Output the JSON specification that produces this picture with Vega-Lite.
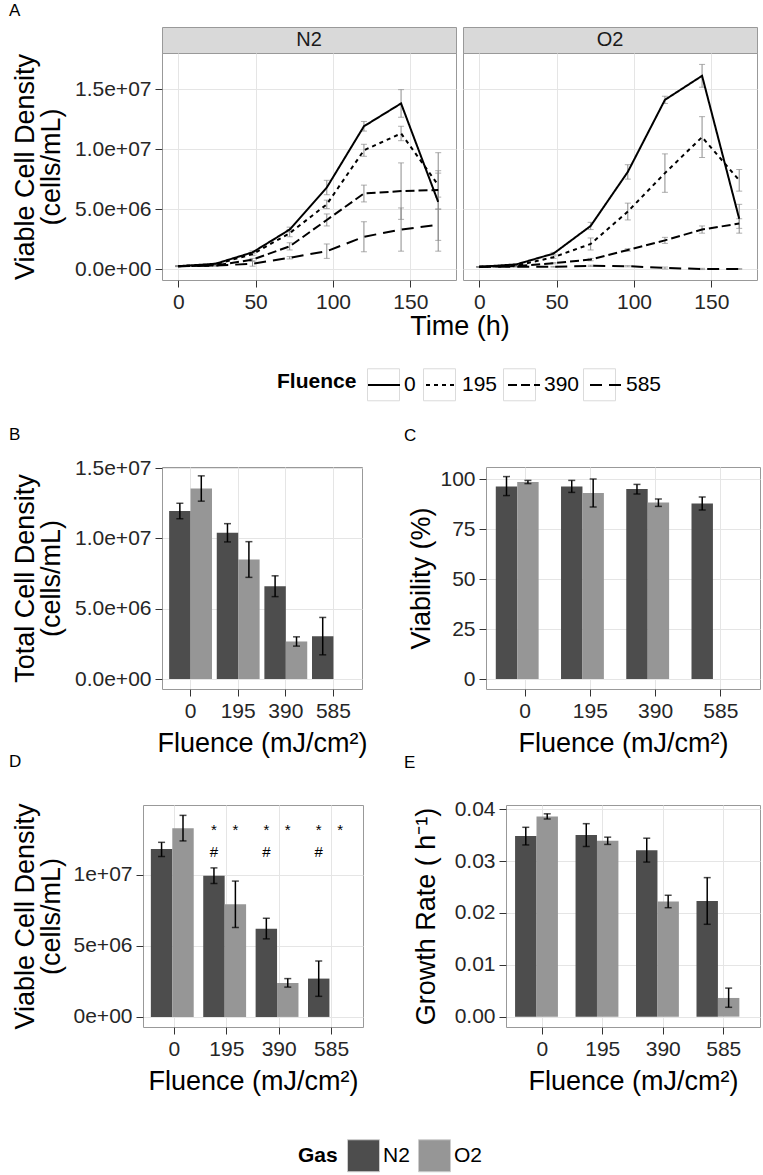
{
"$schema":"https://vega.github.io/schema/vega-lite/v6.json",
"padding":{"left":8,"top":1,"right":4,"bottom":4},
"background":"white",
"config":{
 "font":"Liberation Sans",
 "view":{"stroke":"#999999","strokeWidth":1},
 "axis":{"domain":false,"tickColor":"#333333","tickSize":7,"tickWidth":1,"labelFontSize":21,"labelColor":"#262626","labelPadding":4,"labelFlush":false,"labelOverlap":false,"titleFontSize":27,"titleFontWeight":"normal","titleColor":"#000000","gridColor":"#e5e5e5","gridWidth":1},
 "axisX":{"minExtent":32,"maxExtent":32,"titlePadding":9},
 "axisY":{"titleLineHeight":26},
 "legend":{"labelFontSize":21,"titleFontSize":21,"titleFontWeight":"bold","labelColor":"#000000","titleColor":"#000000","padding":0},
 "title":{"anchor":"start","frame":"group","fontSize":17,"fontWeight":"normal","color":"#000000"}
},
"datasets":{
 "growth":[
  {"Gas":"N2","Fluence":"0","Time":0,"v":250000,"lo":220000,"hi":280000},
  {"Gas":"N2","Fluence":"0","Time":24,"v":450000,"lo":400000,"hi":500000},
  {"Gas":"N2","Fluence":"0","Time":48,"v":1400000,"lo":1280000,"hi":1520000},
  {"Gas":"N2","Fluence":"0","Time":72,"v":3300000,"lo":3100000,"hi":3500000},
  {"Gas":"N2","Fluence":"0","Time":96,"v":6800000,"lo":6200000,"hi":7400000},
  {"Gas":"N2","Fluence":"0","Time":120,"v":11900000,"lo":11500000,"hi":12300000},
  {"Gas":"N2","Fluence":"0","Time":144,"v":13800000,"lo":12650000,"hi":14950000},
  {"Gas":"N2","Fluence":"0","Time":168,"v":5600000,"lo":1500000,"hi":9700000},
  {"Gas":"N2","Fluence":"195","Time":0,"v":250000,"lo":220000,"hi":280000},
  {"Gas":"N2","Fluence":"195","Time":24,"v":400000,"lo":350000,"hi":450000},
  {"Gas":"N2","Fluence":"195","Time":48,"v":1250000,"lo":1130000,"hi":1370000},
  {"Gas":"N2","Fluence":"195","Time":72,"v":3000000,"lo":2700000,"hi":3300000},
  {"Gas":"N2","Fluence":"195","Time":96,"v":5400000,"lo":5050000,"hi":5750000},
  {"Gas":"N2","Fluence":"195","Time":120,"v":9900000,"lo":9400000,"hi":10400000},
  {"Gas":"N2","Fluence":"195","Time":144,"v":11300000,"lo":10700000,"hi":11900000},
  {"Gas":"N2","Fluence":"195","Time":168,"v":7000000,"lo":6000000,"hi":8000000},
  {"Gas":"N2","Fluence":"390","Time":0,"v":250000,"lo":220000,"hi":280000},
  {"Gas":"N2","Fluence":"390","Time":24,"v":300000,"lo":260000,"hi":340000},
  {"Gas":"N2","Fluence":"390","Time":48,"v":800000,"lo":700000,"hi":900000},
  {"Gas":"N2","Fluence":"390","Time":72,"v":1900000,"lo":1600000,"hi":2200000},
  {"Gas":"N2","Fluence":"390","Time":96,"v":4100000,"lo":3600000,"hi":4600000},
  {"Gas":"N2","Fluence":"390","Time":120,"v":6300000,"lo":5600000,"hi":7000000},
  {"Gas":"N2","Fluence":"390","Time":144,"v":6500000,"lo":4150000,"hi":8850000},
  {"Gas":"N2","Fluence":"390","Time":168,"v":6600000,"lo":5000000,"hi":8200000},
  {"Gas":"N2","Fluence":"585","Time":0,"v":250000,"lo":220000,"hi":280000},
  {"Gas":"N2","Fluence":"585","Time":24,"v":300000,"lo":260000,"hi":340000},
  {"Gas":"N2","Fluence":"585","Time":48,"v":450000,"lo":250000,"hi":650000},
  {"Gas":"N2","Fluence":"585","Time":72,"v":950000,"lo":850000,"hi":1050000},
  {"Gas":"N2","Fluence":"585","Time":96,"v":1500000,"lo":900000,"hi":2100000},
  {"Gas":"N2","Fluence":"585","Time":120,"v":2700000,"lo":1450000,"hi":3950000},
  {"Gas":"N2","Fluence":"585","Time":144,"v":3300000,"lo":1500000,"hi":5100000},
  {"Gas":"N2","Fluence":"585","Time":168,"v":3700000,"lo":2400000,"hi":5000000},
  {"Gas":"O2","Fluence":"0","Time":0,"v":200000,"lo":180000,"hi":220000},
  {"Gas":"O2","Fluence":"0","Time":24,"v":400000,"lo":350000,"hi":450000},
  {"Gas":"O2","Fluence":"0","Time":48,"v":1300000,"lo":1200000,"hi":1400000},
  {"Gas":"O2","Fluence":"0","Time":72,"v":3600000,"lo":3300000,"hi":3900000},
  {"Gas":"O2","Fluence":"0","Time":96,"v":8100000,"lo":7500000,"hi":8700000},
  {"Gas":"O2","Fluence":"0","Time":120,"v":14100000,"lo":13800000,"hi":14400000},
  {"Gas":"O2","Fluence":"0","Time":144,"v":16100000,"lo":15150000,"hi":17050000},
  {"Gas":"O2","Fluence":"0","Time":168,"v":4200000,"lo":3000000,"hi":5400000},
  {"Gas":"O2","Fluence":"195","Time":0,"v":200000,"lo":180000,"hi":220000},
  {"Gas":"O2","Fluence":"195","Time":24,"v":300000,"lo":250000,"hi":350000},
  {"Gas":"O2","Fluence":"195","Time":48,"v":1000000,"lo":900000,"hi":1100000},
  {"Gas":"O2","Fluence":"195","Time":72,"v":2100000,"lo":1600000,"hi":2600000},
  {"Gas":"O2","Fluence":"195","Time":96,"v":4800000,"lo":4100000,"hi":5500000},
  {"Gas":"O2","Fluence":"195","Time":120,"v":8000000,"lo":6400000,"hi":9600000},
  {"Gas":"O2","Fluence":"195","Time":144,"v":11000000,"lo":9300000,"hi":12700000},
  {"Gas":"O2","Fluence":"195","Time":168,"v":7400000,"lo":6500000,"hi":8300000},
  {"Gas":"O2","Fluence":"390","Time":0,"v":200000,"lo":180000,"hi":220000},
  {"Gas":"O2","Fluence":"390","Time":24,"v":250000,"lo":220000,"hi":280000},
  {"Gas":"O2","Fluence":"390","Time":48,"v":500000,"lo":450000,"hi":550000},
  {"Gas":"O2","Fluence":"390","Time":72,"v":800000,"lo":700000,"hi":900000},
  {"Gas":"O2","Fluence":"390","Time":96,"v":1600000,"lo":1500000,"hi":1700000},
  {"Gas":"O2","Fluence":"390","Time":120,"v":2400000,"lo":2150000,"hi":2650000},
  {"Gas":"O2","Fluence":"390","Time":144,"v":3300000,"lo":3000000,"hi":3600000},
  {"Gas":"O2","Fluence":"390","Time":168,"v":3800000,"lo":3400000,"hi":4200000},
  {"Gas":"O2","Fluence":"585","Time":0,"v":200000,"lo":180000,"hi":220000},
  {"Gas":"O2","Fluence":"585","Time":24,"v":200000,"lo":180000,"hi":220000},
  {"Gas":"O2","Fluence":"585","Time":48,"v":200000,"lo":170000,"hi":230000},
  {"Gas":"O2","Fluence":"585","Time":72,"v":280000,"lo":230000,"hi":330000},
  {"Gas":"O2","Fluence":"585","Time":96,"v":250000,"lo":200000,"hi":300000},
  {"Gas":"O2","Fluence":"585","Time":120,"v":100000,"lo":20000,"hi":180000},
  {"Gas":"O2","Fluence":"585","Time":144,"v":20000,"lo":-30000,"hi":70000},
  {"Gas":"O2","Fluence":"585","Time":168,"v":20000,"lo":-10000,"hi":50000}
 ],
 "bars":[
  {"panel":"B","Fluence":"0","Gas":"N2","v":11950000,"lo":11400000,"hi":12500000},
  {"panel":"B","Fluence":"0","Gas":"O2","v":13550000,"lo":12650000,"hi":14450000},
  {"panel":"B","Fluence":"195","Gas":"N2","v":10400000,"lo":9750000,"hi":11050000},
  {"panel":"B","Fluence":"195","Gas":"O2","v":8500000,"lo":7230000,"hi":9770000},
  {"panel":"B","Fluence":"390","Gas":"N2","v":6600000,"lo":5860000,"hi":7340000},
  {"panel":"B","Fluence":"390","Gas":"O2","v":2670000,"lo":2340000,"hi":3000000},
  {"panel":"B","Fluence":"585","Gas":"N2","v":3050000,"lo":1720000,"hi":4380000},
  {"panel":"C","Fluence":"0","Gas":"N2","v":96.3,"lo":91.7,"hi":101.2},
  {"panel":"C","Fluence":"0","Gas":"O2","v":98.5,"lo":97.7,"hi":99.3},
  {"panel":"C","Fluence":"195","Gas":"N2","v":96.3,"lo":93.3,"hi":99.3},
  {"panel":"C","Fluence":"195","Gas":"O2","v":93.0,"lo":86.0,"hi":100.0},
  {"panel":"C","Fluence":"390","Gas":"N2","v":95.0,"lo":92.5,"hi":97.3},
  {"panel":"C","Fluence":"390","Gas":"O2","v":88.2,"lo":86.3,"hi":90.0},
  {"panel":"C","Fluence":"585","Gas":"N2","v":87.7,"lo":84.5,"hi":91.0},
  {"panel":"D","Fluence":"0","Gas":"N2","v":11830000,"lo":11300000,"hi":12300000},
  {"panel":"D","Fluence":"0","Gas":"O2","v":13300000,"lo":12400000,"hi":14200000},
  {"panel":"D","Fluence":"195","Gas":"N2","v":9950000,"lo":9400000,"hi":10500000},
  {"panel":"D","Fluence":"195","Gas":"O2","v":7930000,"lo":6300000,"hi":9570000},
  {"panel":"D","Fluence":"390","Gas":"N2","v":6220000,"lo":5500000,"hi":6950000},
  {"panel":"D","Fluence":"390","Gas":"O2","v":2390000,"lo":2100000,"hi":2700000},
  {"panel":"D","Fluence":"585","Gas":"N2","v":2700000,"lo":1450000,"hi":3940000},
  {"panel":"E","Fluence":"0","Gas":"N2","v":0.0348,"lo":0.0331,"hi":0.0365},
  {"panel":"E","Fluence":"0","Gas":"O2","v":0.0386,"lo":0.0381,"hi":0.0391},
  {"panel":"E","Fluence":"195","Gas":"N2","v":0.035,"lo":0.0328,"hi":0.0372},
  {"panel":"E","Fluence":"195","Gas":"O2","v":0.0339,"lo":0.0332,"hi":0.0346},
  {"panel":"E","Fluence":"390","Gas":"N2","v":0.0321,"lo":0.0298,"hi":0.0344},
  {"panel":"E","Fluence":"390","Gas":"O2","v":0.0222,"lo":0.021,"hi":0.0234},
  {"panel":"E","Fluence":"585","Gas":"N2","v":0.0223,"lo":0.0178,"hi":0.0268},
  {"panel":"E","Fluence":"585","Gas":"O2","v":0.0036,"lo":0.0018,"hi":0.0055}
 ],
 "marks":[
  {"Fluence":"195","Gas":"N2","s":"*","sy":13200000},
  {"Fluence":"195","Gas":"O2","s":"*","sy":13200000},
  {"Fluence":"390","Gas":"N2","s":"*","sy":13200000},
  {"Fluence":"390","Gas":"O2","s":"*","sy":13200000},
  {"Fluence":"585","Gas":"N2","s":"*","sy":13200000},
  {"Fluence":"585","Gas":"O2","s":"*","sy":13200000},
  {"Fluence":"195","Gas":"N2","s":"#","sy":11600000},
  {"Fluence":"390","Gas":"N2","s":"#","sy":11600000},
  {"Fluence":"585","Gas":"N2","s":"#","sy":11600000}
 ]
},
"bounds":"flush",
"spacing":0,
"vconcat":[
 {"bounds":"flush","spacing":0,"hconcat":[
  {"width":153,"height":26,"data":{"values":[]},"mark":"point","view":{"stroke":null}},
  {"width":294,"height":26,"data":{"values":[{"g":"N2"}]},"mark":{"type":"text","fontSize":20,"color":"#1a1a1a"},"encoding":{"text":{"field":"g","type":"nominal"}},"view":{"fill":"#d9d9d9","stroke":"#999999"},"title":{"text":"A","dx":-153,"offset":7}},
  {"width":7,"height":26,"data":{"values":[]},"mark":"point","view":{"stroke":null}},
  {"width":294,"height":26,"data":{"values":[{"g":"O2"}]},"mark":{"type":"text","fontSize":20,"color":"#1a1a1a"},"encoding":{"text":{"field":"g","type":"nominal"}},"view":{"fill":"#d9d9d9","stroke":"#999999"}}
 ]},
 {"width":1,"height":26,"data":{"values":[]},"mark":"point","view":{"stroke":null}},
 {"bounds":"flush","spacing":0,"hconcat":[
  {"width":153,"height":227,"data":{"values":[]},"mark":"point","view":{"stroke":null}},
  {"width":294,"height":227,"data":{"name":"growth"},"transform":[{"filter":"datum.Gas === 'N2'"}],
   "encoding":{"x":{"field":"Time","type":"quantitative","scale":{"domain":[-10.5,179.5],"nice":false,"zero":false},"axis":{"title":"Time (h)","values":[0,50,100,150],"grid":true,"titleX":297.5,"titlePadding":1}}},
   "layer":[
    {"mark":{"type":"rule","color":"#8c8c8c","strokeWidth":1},"encoding":{"y":{"field":"lo","type":"quantitative","scale":{"domain":[-900000,18000000],"nice":false,"zero":false},"axis":{"title":["Viable Cell Density","(cells/mL)"],"values":[0,5000000,10000000,15000000],"labelExpr":"replace(format(datum.value, '.1e'), 'e+', 'e+0')","minExtent":88,"maxExtent":88,"titlePadding":9,"grid":true}},"y2":{"field":"hi"}}},
    {"mark":{"type":"tick","orient":"horizontal","size":6,"thickness":1,"color":"#8c8c8c"},"encoding":{"y":{"field":"lo","type":"quantitative","scale":{"domain":[-900000,18000000],"nice":false,"zero":false}}}},
    {"mark":{"type":"tick","orient":"horizontal","size":6,"thickness":1,"color":"#8c8c8c"},"encoding":{"y":{"field":"hi","type":"quantitative","scale":{"domain":[-900000,18000000],"nice":false,"zero":false}}}},
    {"mark":{"type":"line","color":"#000000","strokeWidth":2},"encoding":{"y":{"field":"v","type":"quantitative","scale":{"domain":[-900000,18000000],"nice":false,"zero":false}},"strokeDash":{"field":"Fluence","type":"nominal","scale":{"domain":["0","195","390","585"],"range":[[1,0],[4,4],[9,4],[12,7]]},"legend":{"orient":"none","legendX":268,"legendY":341,"direction":"horizontal","titleOrient":"left","title":"Fluence","symbolType":"stroke","symbolSize":1024,"symbolStrokeWidth":2,"labelOffset":3,"columnPadding":6,"titlePadding":10,"zindex":1,"titleAnchor":"middle","titleBaseline":"middle"}}}},
    {"data":{"values":[]},"mark":{"type":"point","filled":false,"color":"#cccccc"},"encoding":{"shape":{"field":"fk","type":"nominal","scale":{"domain":["F0","F195","F390","F585"],"range":["square","square","square","square"]},"legend":{"orient":"none","legendX":268,"legendY":341,"direction":"horizontal","titleOrient":"left","title":"Fluence","symbolSize":1024,"symbolStrokeColor":"#cccccc","symbolStrokeWidth":1,"symbolFillColor":"white","labelExpr":"substring(datum.label, 1)","labelOpacity":0,"titleOpacity":0,"labelOffset":3,"columnPadding":6,"titlePadding":10,"zindex":0,"titleAnchor":"middle","titleBaseline":"middle"}}}}
   ]},
  {"width":7,"height":227,"data":{"values":[]},"mark":"point","view":{"stroke":null}},
  {"width":294,"height":227,"data":{"name":"growth"},"transform":[{"filter":"datum.Gas === 'O2'"}],
   "encoding":{"x":{"field":"Time","type":"quantitative","scale":{"domain":[-10.5,179.5],"nice":false,"zero":false},"axis":{"title":null,"values":[0,50,100,150],"grid":true}}},
   "layer":[
    {"mark":{"type":"rule","color":"#8c8c8c","strokeWidth":1},"encoding":{"y":{"field":"lo","type":"quantitative","scale":{"domain":[-900000,18000000],"nice":false,"zero":false},"axis":{"title":null,"values":[0,5000000,10000000,15000000],"labels":false,"ticks":false,"grid":true}},"y2":{"field":"hi"}}},
    {"mark":{"type":"tick","orient":"horizontal","size":6,"thickness":1,"color":"#8c8c8c"},"encoding":{"y":{"field":"lo","type":"quantitative","scale":{"domain":[-900000,18000000],"nice":false,"zero":false}}}},
    {"mark":{"type":"tick","orient":"horizontal","size":6,"thickness":1,"color":"#8c8c8c"},"encoding":{"y":{"field":"hi","type":"quantitative","scale":{"domain":[-900000,18000000],"nice":false,"zero":false}}}},
    {"mark":{"type":"line","color":"#000000","strokeWidth":2},"encoding":{"y":{"field":"v","type":"quantitative","scale":{"domain":[-900000,18000000],"nice":false,"zero":false}},"strokeDash":{"field":"Fluence","type":"nominal","scale":{"domain":["0","195","390","585"],"range":[[1,0],[4,4],[9,4],[12,7]]}}}}
   ]}
 ]},
 {"width":1,"height":414,"data":{"values":[]},"mark":"point","view":{"stroke":null}},
 {"bounds":"flush","spacing":0,"hconcat":[
  {"width":153,"height":222,"data":{"values":[]},"mark":"point","view":{"stroke":null}},
  {"width":200,"height":222,"data":{"name":"bars"},"transform":[{"filter":"datum.panel === 'B'"}],
   "title":{"text":"B","dx":-153,"offset":13},
   "encoding":{
    "x":{"field":"Fluence","type":"nominal","scale":{"domain":["0","195","390","585"],"paddingInner":0.1,"paddingOuter":0.15},"axis":{"title":"Fluence (mJ/cm²)","grid":true,"labelAngle":0}},
    "xOffset":{"field":"Gas","type":"nominal","scale":{"domain":["N2","O2"]}}
   },
   "layer":[
    {"mark":{"type":"bar"},"encoding":{"y":{"field":"v","type":"quantitative","scale":{"domain":[-710000,15080000],"nice":false,"zero":false},"axis":{"title":["Total Cell Density","(cells/mL)"],"values":[0,5000000,10000000,15000000],"labelExpr":"replace(format(datum.value, '.1e'), 'e+', 'e+0')","minExtent":88,"maxExtent":88,"titlePadding":9,"grid":true}},
      "color":{"field":"Gas","type":"nominal","scale":{"domain":["N2","O2"],"range":["#4d4d4d","#969696"]},"legend":{"orient":"none","legendX":289,"legendY":1112,"direction":"horizontal","titleOrient":"left","title":"Gas","symbolType":"square","symbolSize":1024,"symbolStrokeColor":"#cccccc","symbolStrokeWidth":1,"labelOffset":3,"columnPadding":6,"titlePadding":9,"titleAnchor":"middle","titleBaseline":"middle"}}}},
    {"mark":{"type":"rule","color":"#000000","strokeWidth":1.5},"encoding":{"y":{"field":"lo","type":"quantitative","scale":{"domain":[-710000,15080000],"nice":false,"zero":false}},"y2":{"field":"hi"}}},
    {"mark":{"type":"tick","orient":"horizontal","size":7,"thickness":1.5,"color":"#000000"},"encoding":{"y":{"field":"lo","type":"quantitative","scale":{"domain":[-710000,15080000],"nice":false,"zero":false}}}},
    {"mark":{"type":"tick","orient":"horizontal","size":7,"thickness":1.5,"color":"#000000"},"encoding":{"y":{"field":"hi","type":"quantitative","scale":{"domain":[-710000,15080000],"nice":false,"zero":false}}}}
   ]},
  {"width":124,"height":222,"data":{"values":[]},"mark":"point","view":{"stroke":null}},
  {"width":274,"height":222,"data":{"name":"bars"},"transform":[{"filter":"datum.panel === 'C'"}],
   "title":{"text":"C","dx":-82,"offset":22},
   "encoding":{
    "x":{"field":"Fluence","type":"nominal","scale":{"domain":["0","195","390","585"],"paddingInner":0.1,"paddingOuter":0.15},"axis":{"title":"Fluence (mJ/cm²)","grid":true,"labelAngle":0}},
    "xOffset":{"field":"Gas","type":"nominal","scale":{"domain":["N2","O2"]}}
   },
   "layer":[
    {"mark":{"type":"bar"},"encoding":{"y":{"field":"v","type":"quantitative","scale":{"domain":[-5,106],"nice":false,"zero":false},"axis":{"title":"Viability (%)","values":[0,25,50,75,100],"minExtent":46,"maxExtent":46,"titlePadding":5,"grid":true}},
      "color":{"field":"Gas","type":"nominal","scale":{"domain":["N2","O2"],"range":["#4d4d4d","#969696"]}}}},
    {"mark":{"type":"rule","color":"#000000","strokeWidth":1.5},"encoding":{"y":{"field":"lo","type":"quantitative","scale":{"domain":[-5,106],"nice":false,"zero":false}},"y2":{"field":"hi"}}},
    {"mark":{"type":"tick","orient":"horizontal","size":7,"thickness":1.5,"color":"#000000"},"encoding":{"y":{"field":"lo","type":"quantitative","scale":{"domain":[-5,106],"nice":false,"zero":false}}}},
    {"mark":{"type":"tick","orient":"horizontal","size":7,"thickness":1.5,"color":"#000000"},"encoding":{"y":{"field":"hi","type":"quantitative","scale":{"domain":[-5,106],"nice":false,"zero":false}}}}
   ]}
 ]},
 {"width":1,"height":338,"data":{"values":[]},"mark":"point","view":{"stroke":null}},
 {"bounds":"flush","spacing":0,"hconcat":[
  {"width":134,"height":222,"data":{"values":[]},"mark":"point","view":{"stroke":null}},
  {"width":220,"height":222,"data":{"name":"bars"},"transform":[{"filter":"datum.panel === 'D'"}],
   "title":{"text":"D","dx":-134,"offset":32},
   "encoding":{
    "x":{"field":"Fluence","type":"nominal","scale":{"domain":["0","195","390","585"],"paddingInner":0.1,"paddingOuter":0.15},"axis":{"title":"Fluence (mJ/cm²)","grid":true,"labelAngle":0}},
    "xOffset":{"field":"Gas","type":"nominal","scale":{"domain":["N2","O2"]}}
   },
   "layer":[
    {"mark":{"type":"bar"},"encoding":{"y":{"field":"v","type":"quantitative","scale":{"domain":[-710000,14930000],"nice":false,"zero":false},"axis":{"title":["Viable Cell Density","(cells/mL)"],"values":[0,5000000,10000000],"labelExpr":"replace(format(datum.value, '.0e'), 'e+', 'e+0')","minExtent":69,"maxExtent":69,"titlePadding":9,"grid":true}},
      "color":{"field":"Gas","type":"nominal","scale":{"domain":["N2","O2"],"range":["#4d4d4d","#969696"]}}}},
    {"mark":{"type":"rule","color":"#000000","strokeWidth":1.5},"encoding":{"y":{"field":"lo","type":"quantitative","scale":{"domain":[-710000,14930000],"nice":false,"zero":false}},"y2":{"field":"hi"}}},
    {"mark":{"type":"tick","orient":"horizontal","size":7,"thickness":1.5,"color":"#000000"},"encoding":{"y":{"field":"lo","type":"quantitative","scale":{"domain":[-710000,14930000],"nice":false,"zero":false}}}},
    {"mark":{"type":"tick","orient":"horizontal","size":7,"thickness":1.5,"color":"#000000"},"encoding":{"y":{"field":"hi","type":"quantitative","scale":{"domain":[-710000,14930000],"nice":false,"zero":false}}}},
    {"data":{"name":"marks"},"mark":{"type":"text","fontSize":15,"color":"#000000","baseline":"middle"},"encoding":{"y":{"field":"sy","type":"quantitative","scale":{"domain":[-710000,14930000],"nice":false,"zero":false}},"text":{"field":"s","type":"nominal"}}}
   ]},
  {"width":143,"height":222,"data":{"values":[]},"mark":"point","view":{"stroke":null}},
  {"width":254,"height":222,"data":{"name":"bars"},"transform":[{"filter":"datum.panel === 'E'"}],
   "title":{"text":"E","dx":-102,"offset":26},
   "encoding":{
    "x":{"field":"Fluence","type":"nominal","scale":{"domain":["0","195","390","585"],"paddingInner":0.1,"paddingOuter":0.15},"axis":{"title":"Fluence (mJ/cm²)","grid":true,"labelAngle":0}},
    "xOffset":{"field":"Gas","type":"nominal","scale":{"domain":["N2","O2"]}}
   },
   "layer":[
    {"mark":{"type":"bar"},"encoding":{"y":{"field":"v","type":"quantitative","scale":{"domain":[-0.002,0.0408],"nice":false,"zero":false},"axis":{"title":"Growth Rate ( h⁻¹)","values":[0,0.01,0.02,0.03,0.04],"format":".2f","minExtent":52,"maxExtent":52,"titlePadding":14,"grid":true}},
      "color":{"field":"Gas","type":"nominal","scale":{"domain":["N2","O2"],"range":["#4d4d4d","#969696"]}}}},
    {"mark":{"type":"rule","color":"#000000","strokeWidth":1.5},"encoding":{"y":{"field":"lo","type":"quantitative","scale":{"domain":[-0.002,0.0408],"nice":false,"zero":false}},"y2":{"field":"hi"}}},
    {"mark":{"type":"tick","orient":"horizontal","size":7,"thickness":1.5,"color":"#000000"},"encoding":{"y":{"field":"lo","type":"quantitative","scale":{"domain":[-0.002,0.0408],"nice":false,"zero":false}}}},
    {"mark":{"type":"tick","orient":"horizontal","size":7,"thickness":1.5,"color":"#000000"},"encoding":{"y":{"field":"hi","type":"quantitative","scale":{"domain":[-0.002,0.0408],"nice":false,"zero":false}}}}
   ]}
 ]}
]
}
